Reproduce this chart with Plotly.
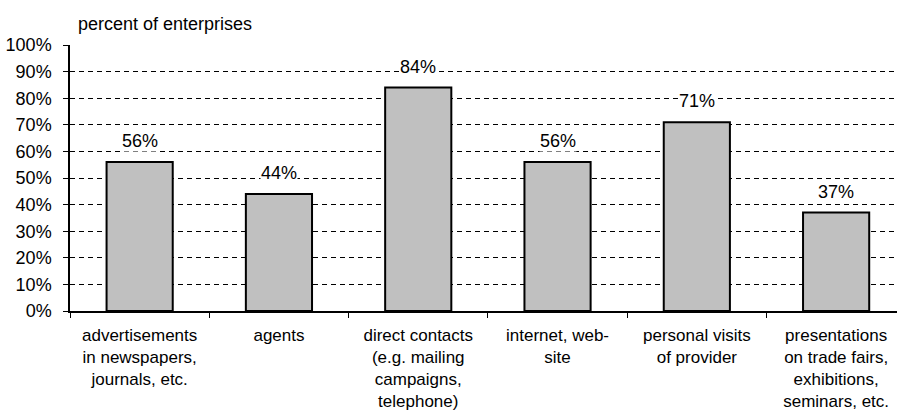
import plotly.graph_objects as go

categories = [
    "advertisements<br>in newspapers,<br>journals, etc.",
    "agents",
    "direct contacts<br>(e.g. mailing<br>campaigns,<br>telephone)",
    "internet, web-<br>site",
    "personal visits<br>of provider",
    "presentations<br>on trade fairs,<br>exhibitions,<br>seminars, etc.",
]
shares = [0.56, 0.44, 0.84, 0.56, 0.71, 0.37]
y_ticks = [i / 10 for i in range(11)]
y_tick_text = [f"{i * 10}%" for i in range(11)]

FONT = "Liberation Sans, Arial, sans-serif"
FS = 18

fig = go.Figure(
    go.Bar(
        x=categories,
        y=shares,
        width=0.475,
        marker=dict(color="#c0c0c0", line=dict(color="black", width=2)),
        hoverinfo="skip",
    )
)

# value labels above the bars, on a white box that breaks the grid
for cat, v in zip(categories, shares):
    fig.add_annotation(
        x=cat, y=v, xref="x", yref="y",
        text=f"{round(v * 100)}%",
        showarrow=False, yanchor="middle", yshift=21,
        bgcolor="white", borderpad=0,
        font=dict(family=FONT, size=FS, color="black"),
    )

fig.add_annotation(
    text="percent of enterprises",
    xref="paper", yref="paper", x=6 / 827, y=1,
    xanchor="left", yanchor="middle", yshift=21,
    showarrow=False,
    font=dict(family=FONT, size=FS, color="black"),
)

fig.update_layout(
    width=897, height=414,
    margin=dict(l=70, r=0, t=45, b=103),
    plot_bgcolor="white", paper_bgcolor="white",
    showlegend=False,
    font=dict(family=FONT, size=FS, color="black"),
    bargap=0.5,
)

fig.update_xaxes(
    type="category",
    range=[-0.5, 5.437],
    automargin=False,
    showline=True, linecolor="black", linewidth=1.5,
    ticks="outside", tickson="boundaries", ticklen=5, tickcolor="black",
    tickwidth=1, showgrid=False, ticklabelstandoff=8,
    tickfont=dict(family=FONT, size=17),
)

fig.update_yaxes(
    range=[0, 1],
    automargin=False,
    tickvals=y_ticks, ticktext=y_tick_text,
    showline=True, linecolor="black", linewidth=1.5,
    ticks="outside", ticklen=5, tickcolor="black", tickwidth=1,
    showgrid=True, gridcolor="black", gridwidth=1, griddash="5px,4px",
    zeroline=False, ticklabelstandoff=8,
    tickfont=dict(family=FONT, size=FS),
)

fig.write_html("out.html")
